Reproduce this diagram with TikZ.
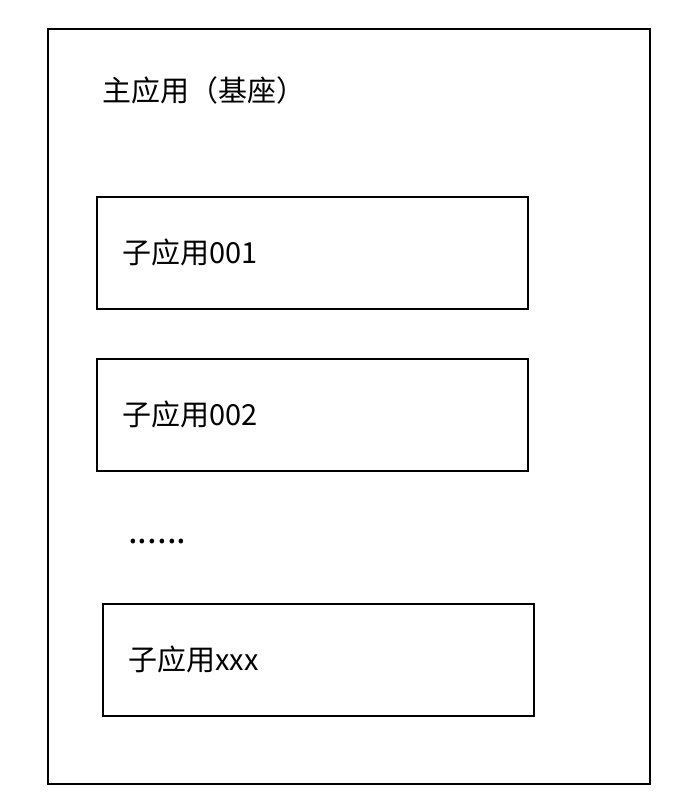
\documentclass[tikz,border=0pt]{standalone}
\usepackage{fontspec}
\setmainfont{Noto Sans CJK SC}
\usetikzlibrary{positioning}

\tikzset{
  base/.style={draw, line width=1.8pt, minimum width=602pt, minimum height=755pt, inner sep=0pt},
  sub/.style={draw, line width=1.8pt, minimum width=431pt, minimum height=112pt, text width=380pt, inner xsep=25pt, align=left}
}

\begin{document}
\begin{tikzpicture}[x=1pt,y=-1pt]
\useasboundingbox (0,0) rectangle (698,810);
\fontsize{29}{34}\selectfont

\node (Base) [base, anchor=north west] at (47,28) {};
\node (Title) [anchor=west, inner sep=0pt] at (102,90) {主应用（基座）};

\node (SubA) [sub, anchor=north west] at (96,196) {子应用001};
\node (SubB) [sub, node distance=162pt, below of=SubA] {子应用002};
\node (Dots) [anchor=base west, inner sep=0pt, font=\fontsize{35}{40}\selectfont] at (128,543) {......};
\node (SubX) [sub, anchor=north west] at (102,603) {子应用xxx};

\end{tikzpicture}
\end{document}
